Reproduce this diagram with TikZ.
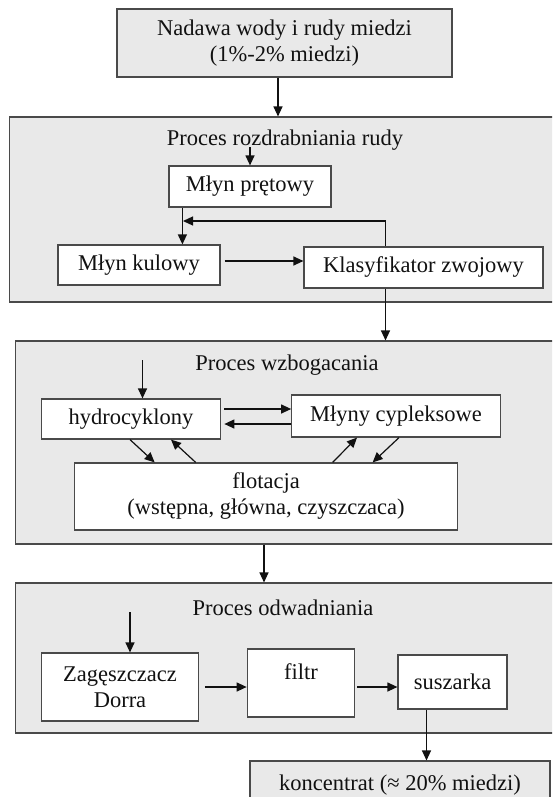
\documentclass[tikz,border=0pt]{standalone}
\usepackage{fontspec}
\setmainfont{Liberation Serif}
\usetikzlibrary{arrows.meta,positioning,calc}
\definecolor{shade}{HTML}{E9E9E9}
\definecolor{edge}{HTML}{4A4A4A}
\definecolor{ink}{HTML}{111111}

\begin{document}
\begin{tikzpicture}[x=1pt, y=-1pt, ink,
    font=\fontsize{22.5}{26}\selectfont,
    group/.style={draw=edge, line width=1.1pt, fill=shade, inner sep=0pt},
    feed/.style={draw=edge, line width=1.1pt, fill=shade, align=center, inner sep=2pt},
    unit/.style={draw=edge, line width=1.2pt, fill=white, align=center, inner sep=2pt},
    title/.style={inner sep=1pt},
    flow/.style={-{Triangle[length=10pt, width=9pt]}, line width=1.2pt, draw=ink},
  ]
% --- Page ------------------------------------------------------------------------
\useasboundingbox (0,0) rectangle (552,797);
\clip (0,0) rectangle (552,797);

% --- Groups (they run past the right edge) ---------------------------------------
\node[group, minimum width=556pt, minimum height=185pt] (grind) at (287.5,209.5) {};
\node[group, minimum width=550pt, minimum height=203pt] (enrich) at (290.5,442.5) {};
\node[group, minimum width=550pt, minimum height=150pt] (dewater) at (290.5,658) {};
\node[title] (grindT) at (285,140) {Proces rozdrabniania rudy};
\node[title] (enrichT) at (287,365) {Proces wzbogacania};
\node[title] (dewaterT) at (283,608) {Proces odwadniania};

% --- Units -------------------------------------------------------------------------
\node[feed, minimum width=335pt, minimum height=68pt] (top) at (284.5,43) {Nadawa wody i rudy miedzi\\(1\%-2\% miedzi)};
\node[unit, minimum width=162pt, minimum height=41pt] (rod) at (250,186.5) {Młyn prętowy};
\node[unit, minimum width=162pt, minimum height=40pt] (ball) at (139,265) {Młyn kulowy};
\node[unit, minimum width=239pt, minimum height=41pt] (classif) at (423.5,267.5) {Klasyfikator zwojowy};
\node[unit, minimum width=179.5pt, minimum height=40pt] (hydro) at (131,419) {hydrocyklony};
\node[unit, minimum width=208.5pt, minimum height=42pt] (mills) at (396,416) {Młyny cypleksowe};
\node[unit, minimum width=383.5pt, minimum height=67pt] (flot) at (266,496.5) {flotacja\\(wstępna, główna, czyszczaca)};
\node[unit, minimum width=156.5pt, minimum height=68pt] (thick) at (120,687) {Zagęszczacz\\Dorra};
\node[unit, minimum width=107.5pt, minimum height=68pt, text height=26pt, text depth=34pt] (filter) at (301,683) {filtr};
\node[unit, minimum width=109pt, minimum height=54pt] (dryer) at (452.5,682) {suszarka};
\node[feed, minimum width=300pt, minimum height=49pt] (conc) at (400,785.5) {koncentrat (≈ 20\% miedzi)};

% --- Free ends ---------------------------------------------------------------------
\coordinate (rodIn) at (250,147);
\coordinate (hydroIn) at (142.5,360);
\coordinate (thickIn) at (130,612);
\coordinate (back) at (183,221);

% --- Arrows -------------------------------------------------------------------------
\draw[flow] ([xshift=-6.5pt]top.south) -- ([xshift=-6.5pt]top.south |- grind.north);
\draw[flow] (rodIn) -- (rodIn |- rod.north);
\draw[flow] ([xshift=14pt]rod.south west) -- ([xshift=14pt]rod.south west |- ball.north);
\draw[flow, shorten <=4pt] ([yshift=4pt]ball.east) -- ([yshift=4pt]ball.east -| classif.west);
\draw[flow] ([xshift=-38pt]classif.north) |- (back);
\draw[flow] ([xshift=-38pt]classif.south) -- ([xshift=-38pt]classif.south |- enrich.north);

\draw[flow] (hydroIn) -- (hydroIn |- hydro.north);
\draw[flow, shorten <=3pt] ([yshift=10pt]hydro.east) -- ([yshift=10pt]hydro.east -| mills.west);
\draw[flow, shorten >=3pt] ([yshift=-5pt]hydro.east -| mills.west) -- ([yshift=-5pt]hydro.east);
\draw[flow] ([xshift=-1pt]hydro.south) -- ([xshift=81pt]flot.north west);
\draw[flow] ([xshift=122pt]flot.north west) -- ([xshift=40pt]hydro.south);
\draw[flow] ([xshift=259pt]flot.north west) -- ([xshift=-39pt]mills.south);
\draw[flow] ([xshift=3pt]mills.south) -- ([xshift=299pt]flot.north west);
\draw[flow] ([xshift=-2pt]flot.south |- enrich.south) -- ([xshift=-2pt]flot.south |- dewater.north);

\draw[flow] (thickIn) -- (thickIn |- thick.north);
\draw[flow, shorten <=6pt] (thick.east) -- (thick.east -| filter.west);
\draw[flow, shorten <=2pt] (thick.east -| filter.east) -- (thick.east -| dryer.west);
\draw[flow] ([xshift=-26pt]dryer.south) -- ([xshift=-26pt]dryer.south |- conc.north);
\end{tikzpicture}
\end{document}
